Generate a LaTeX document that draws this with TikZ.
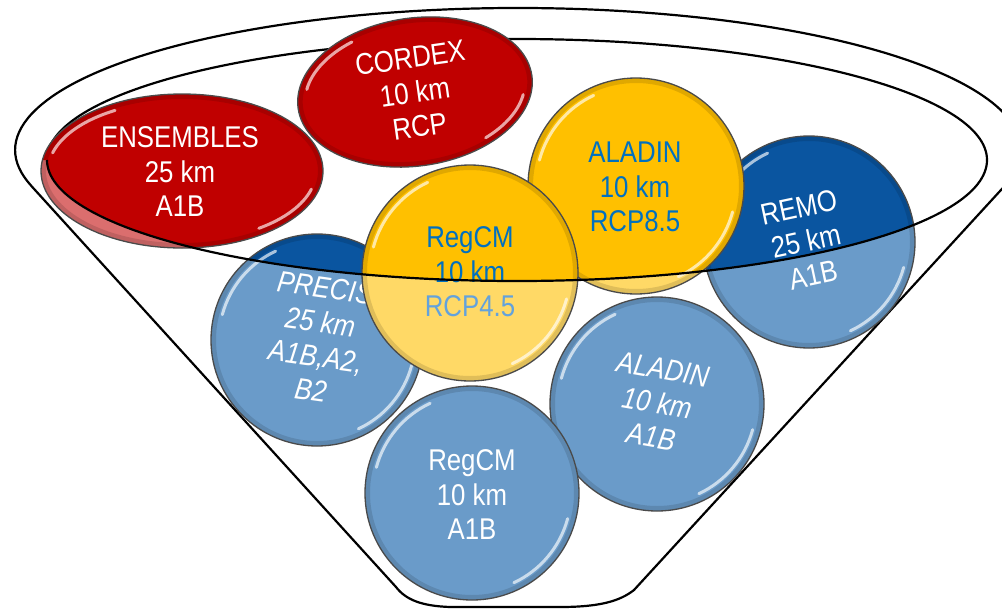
\documentclass[tikz,border=0pt]{standalone}
\usepackage{fontspec}
\setmainfont{Liberation Sans}[FakeStretch=0.86]
\usetikzlibrary{shapes.geometric}
\definecolor{dred}{HTML}{C00000}
\definecolor{lred}{HTML}{DB6E6E}
\definecolor{dyel}{HTML}{FFC000}
\definecolor{lyel}{HTML}{FFD966}
\definecolor{dblue}{HTML}{0A55A0}
\definecolor{lblue}{HTML}{6A9BC9}
\definecolor{tblue}{HTML}{0070C0}
\definecolor{tlblue}{HTML}{63A2DC}
\definecolor{edgegray}{HTML}{4A4A4A}
\tikzset{
  outline/.style={draw=black, line width=2.2, line join=round},
  balltext/.style={align=center, font=\fontsize{30}{34.5}\selectfont, inner sep=0pt},
  ballrim/.style={draw=edgegray, line width=1.3},
  gloss/.style={draw=white, opacity=0.65, line width=3, line cap=round},
  shade ring/.style={draw=black, opacity=0.12, line width=5},
}
\newcommand\darkclip{\clip (987,160) arc[start angle=0,end angle=180,x radius=470,y radius=121] -- (-20,160) -- (-20,-20) -- (1022,-20) -- (1022,160) -- cycle;}
% #1 name, #2 x, #3 y, #4 r, #5 light, #6 dark, #7 gloss radius
\newcommand\orb[7]{%
  \fill[#5] (#2,#3) circle[radius=#4];
  \begin{scope}\darkclip\fill[#6] (#2,#3) circle[radius=#4];\end{scope}
  \draw[shade ring] (#2,#3) circle[radius=#4-2.5];
  \draw[gloss] (#2,#3) ++(195:#7) arc[start angle=195,end angle=245,radius=#7];
  \draw[gloss] (#2,#3) ++(15:#7) arc[start angle=15,end angle=65,radius=#7];
  \node[circle,ballrim,minimum size=2*#4,inner sep=0pt] (#1) at (#2,#3) {};
}
\begin{document}
\begin{tikzpicture}[x=1pt,y=-1pt]
\useasboundingbox (0,0) rectangle (1002,614);
\clip (0,0) rectangle (1002,614);
\fill[white] (0,0) rectangle (1002,614);

% funnel outline
\draw[outline] (31.2,185.8) -- (396,587) .. controls (406,600) and (422,606) .. (450,607)
  -- (560,607) .. controls (600,607) and (620,601) .. (634,590)
  -- (1004.8,185.8) arc[start angle=14.6,end angle=-194.6,x radius=503,y radius=142] -- cycle;

% back half of the rim
\draw[outline] (987,160) arc[start angle=0,end angle=-180,x radius=470,y radius=121];

% ENSEMBLES
\fill[lred] (182,171) ellipse[x radius=141,y radius=77];
\begin{scope}\darkclip\fill[dred] (182,171) ellipse[x radius=141,y radius=77];\end{scope}
\draw[shade ring] (182,171) ellipse[x radius=138.5,y radius=74.5];
\draw[gloss] ([shift={(-129.4,-18.1)}]182,171) arc[start angle=195,end angle=240,x radius=134,y radius=70];
\draw[gloss] ([shift={(129.4,18.1)}]182,171) arc[start angle=15,end angle=55,x radius=134,y radius=70];
\node[ellipse,ballrim,minimum width=282,minimum height=154,inner sep=0pt] (ens) at (182,171) {};
\node[balltext,text=white] (enst) at (180,172) {ENSEMBLES\\25 km\\A1B};

% CORDEX
\begin{scope}[rotate around={8:(415,92)}]
\fill[dred] (415,92) ellipse[x radius=118,y radius=74];
\draw[shade ring] (415,92) ellipse[x radius=115.5,y radius=71.5];
\draw[gloss] ([shift={(-106.8,-17.6)}]415,92) arc[start angle=195,end angle=240,x radius=110,y radius=67];
\draw[gloss] ([shift={(106.8,17.6)}]415,92) arc[start angle=15,end angle=55,x radius=110,y radius=67];
\end{scope}
\node[ellipse,ballrim,rotate=8,minimum width=236,minimum height=148,inner sep=0pt] (cor) at (415,92) {};
\node[balltext,text=white,rotate=8] (cort) at (cor) {CORDEX\\10 km\\RCP};

% REMO
\orb{remo}{809}{242}{106}{lblue}{dblue}{98}
\node[balltext,text=white,rotate=12] (remot) at (806,241) {REMO\\25 km\\A1B};

% ALADIN (yellow)
\orb{alay}{636}{186}{108}{lyel}{dyel}{100}
\node[balltext,text=tblue] (alayt) at (635,187) {ALADIN\\10 km\\RCP8.5};

% PRECIS
\orb{prec}{317}{340}{106}{lblue}{dblue}{98}
\node[balltext,text=white,rotate=-8,font=\fontsize{30}{34.5}\selectfont\itshape] (prect) at (318,339) {PRECIS\\25 km\\A1B,A2,\\B2};

% RegCM (yellow)
\orb{regy}{470}{273}{108}{lyel}{dyel}{100}
\node[balltext] (regyt) at (470,272) {\textcolor{tblue}{RegCM}\\\textcolor{tblue}{10 km}\\\textcolor{tlblue}{RCP4.5}};

% ALADIN (blue, bottom)
\orb{alab}{657}{404}{107}{lblue}{lblue}{99}
\node[balltext,text=white,rotate=-10,font=\fontsize{30}{34.5}\selectfont\itshape] (alabt) at (657,403) {ALADIN\\10 km\\A1B};

% RegCM (blue, bottom)
\orb{regb}{472}{493}{107}{lblue}{lblue}{99}
\node[balltext,text=white] (regbt) at (472,495) {RegCM\\10 km\\A1B};

% front half of the rim
\draw[outline] (987,160) arc[start angle=0,end angle=180,x radius=470,y radius=121];
\end{tikzpicture}
\end{document}
